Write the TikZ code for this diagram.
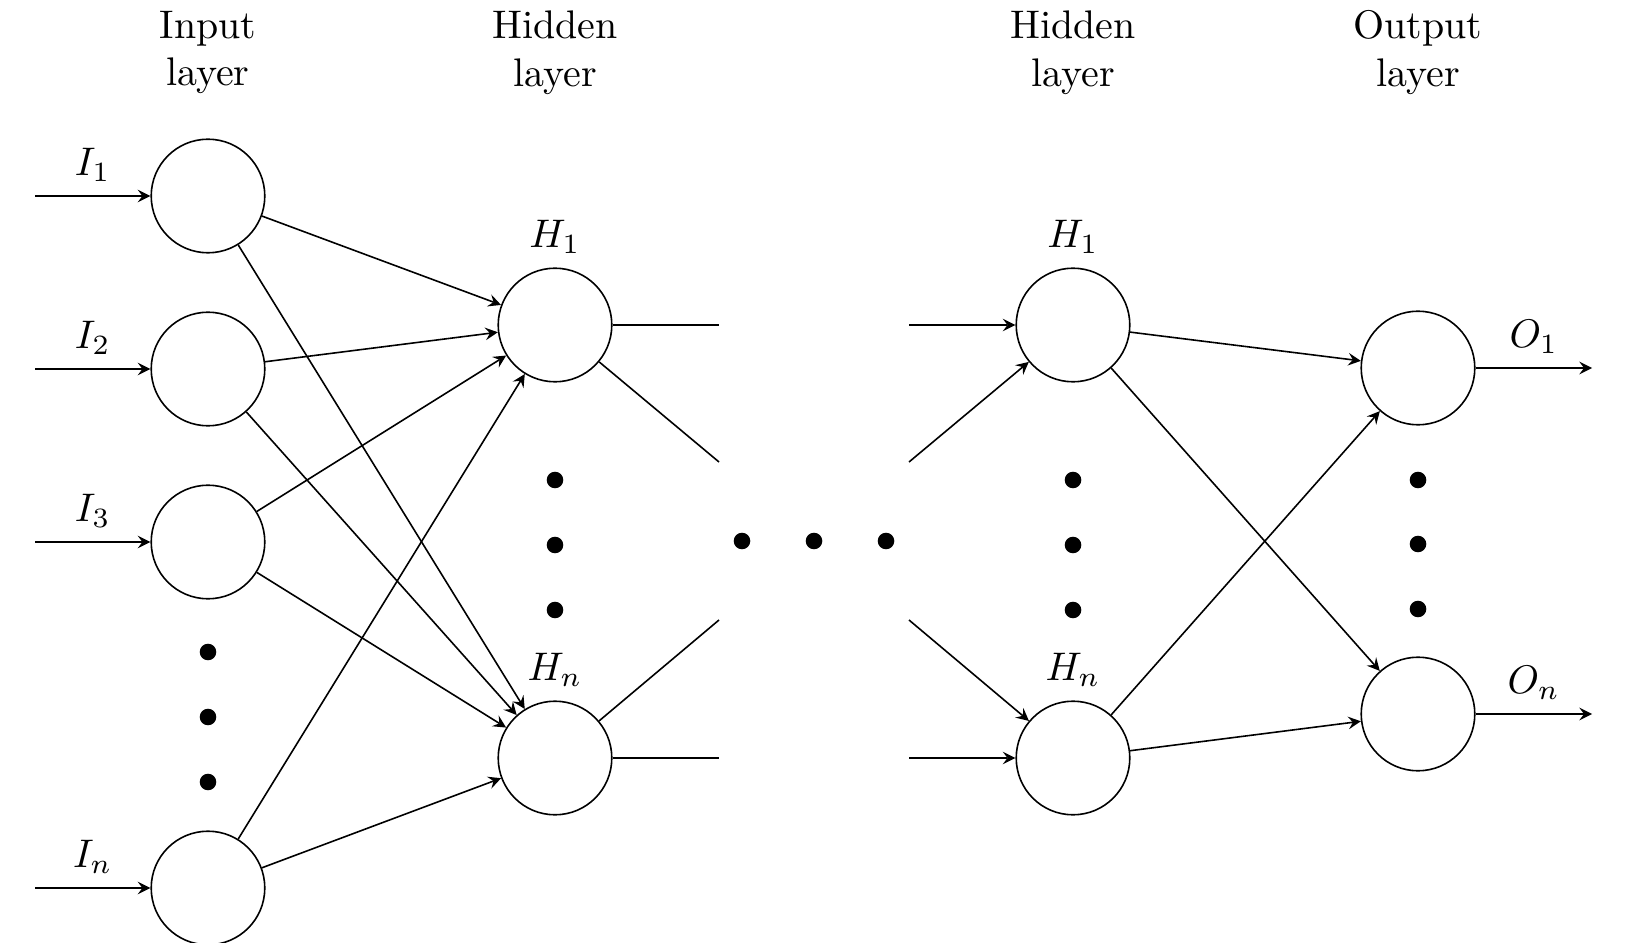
\documentclass[tikz,border=0pt]{standalone}
\usetikzlibrary{arrows}
\begin{document}
\begin{tikzpicture}[x=0.0088cm,y=-0.0088cm,>=stealth,
  neuron/.style={circle,draw,minimum size=1cm,inner sep=0pt},
  bigdot/.style={circle,fill,inner sep=0pt,minimum size=0.146cm},
  head/.style={align=center,anchor=north,inner sep=0pt}]
\useasboundingbox (0,0) rectangle (1640,943);
% headers
\node[head] (hin) at (208,10) {Input\\layer};
\node[head] (hh1) at (555,10) {Hidden\\layer};
\node[head] (hh2) at (1073,10) {Hidden\\layer};
\node[head] (hout) at (1418,10) {Output\\layer};
% neurons
\node[neuron] (I1) at (208,196) {};
\node[neuron] (I2) at (208,369) {};
\node[neuron] (I3) at (208,542) {};
\node[neuron] (In) at (208,888) {};
\node[neuron,label=above:$H_1$] (H1) at (555,325) {};
\node[neuron,label=above:$H_n$] (Hn) at (555,758) {};
\node[neuron,label=above:$H_1$] (G1) at (1073,325) {};
\node[neuron,label=above:$H_n$] (Gn) at (1073,758) {};
\node[neuron] (O1) at (1418,368) {};
\node[neuron] (On) at (1418,714) {};
% dots
\node[bigdot] (di1) at (208,652) {};
\node[bigdot] (di2) at (208,717) {};
\node[bigdot] (di3) at (208,782) {};
\node[bigdot] (dh1) at (555,480) {};
\node[bigdot] (dh2) at (555,545) {};
\node[bigdot] (dh3) at (555,610) {};
\node[bigdot] (dm1) at (742,541) {};
\node[bigdot] (dm2) at (814,541) {};
\node[bigdot] (dm3) at (886,541) {};
\node[bigdot] (dg1) at (1073,480) {};
\node[bigdot] (dg2) at (1073,545) {};
\node[bigdot] (dg3) at (1073,610) {};
\node[bigdot] (do1) at (1418,480) {};
\node[bigdot] (do2) at (1418,544) {};
\node[bigdot] (do3) at (1418,609) {};
% free ends
\coordinate (i1) at (35,196);
\coordinate (i2) at (35,369);
\coordinate (i3) at (35,542);
\coordinate (in) at (35,888);
\coordinate (o1) at (1592,368);
\coordinate (on) at (1592,714);
\coordinate (a1) at (719,325);
\coordinate (a2) at (719,462);
\coordinate (a3) at (719,620);
\coordinate (a4) at (719,758);
\coordinate (b1) at (909,325);
\coordinate (b2) at (909,462);
\coordinate (b3) at (909,620);
\coordinate (b4) at (909,758);
% inputs
\draw[->] (i1) -- node[above] {$I_1$} (I1);
\draw[->] (i2) -- node[above] {$I_2$} (I2);
\draw[->] (i3) -- node[above] {$I_3$} (I3);
\draw[->] (in) -- node[above] {$I_n$} (In);
% input to hidden
\foreach \s in {I1,I2,I3,In}
  \foreach \t in {H1,Hn}
    \draw[->] (\s) -- (\t);
% stubs
\draw (H1) -- (a1);
\draw (H1) -- (a2);
\draw (Hn) -- (a3);
\draw (Hn) -- (a4);
\draw[->] (b1) -- (G1);
\draw[->] (b2) -- (G1);
\draw[->] (b3) -- (Gn);
\draw[->] (b4) -- (Gn);
% hidden to output
\foreach \s in {G1,Gn}
  \foreach \t in {O1,On}
    \draw[->] (\s) -- (\t);
% outputs
\draw[->] (O1) -- node[above] {$O_1$} (o1);
\draw[->] (On) -- node[above] {$O_n$} (on);
\end{tikzpicture}
\end{document}
